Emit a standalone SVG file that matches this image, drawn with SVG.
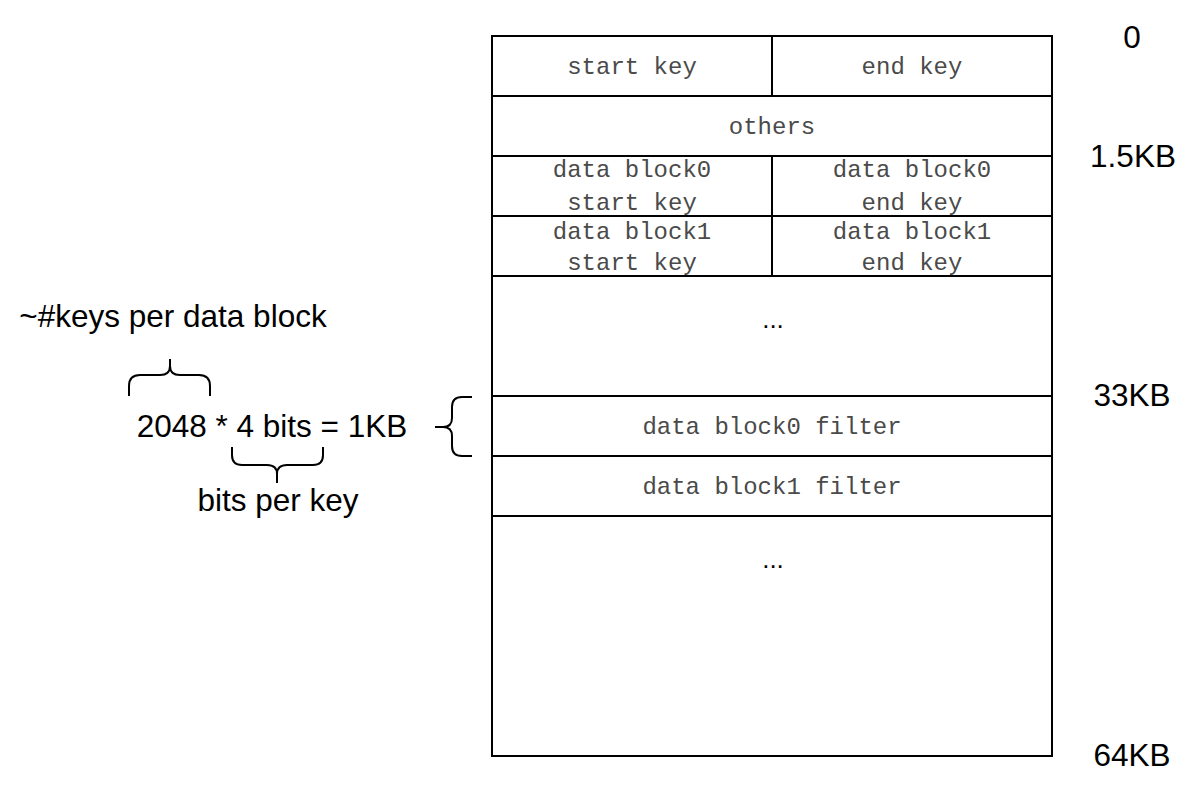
<svg xmlns="http://www.w3.org/2000/svg" width="1192" height="794" viewBox="0 0 1192 794">
<style>
.cell{fill:#fff;stroke:#000;stroke-width:2}
.mono{font-family:"Liberation Mono","Courier New",monospace;font-size:24px;fill:#4a4a4a;text-anchor:middle}
.sans{font-family:"Liberation Sans",Arial,sans-serif;font-size:31.5px;fill:#000;text-anchor:middle}
.dots{font-family:"Liberation Sans",Arial,sans-serif;font-size:26px;fill:#000;text-anchor:middle}
.brace{fill:none;stroke:#000;stroke-width:2;stroke-linejoin:round}
</style>
<rect width="1192" height="794" fill="#fff"/>
<g id="table">
  <g id="row-start-key"><rect class="cell" x="492" y="36" width="280" height="60"/><text class="mono" x="632" y="74">start key</text></g>
  <g id="row-end-key"><rect class="cell" x="772" y="36" width="280" height="60"/><text class="mono" x="912" y="74">end key</text></g>
  <g id="row-others"><rect class="cell" x="492" y="96" width="560" height="60"/><text class="mono" x="772" y="134">others</text></g>
  <g id="b0-start"><rect class="cell" x="492" y="156" width="280" height="60"/><text class="mono" x="632" y="177">data block0</text><text class="mono" x="632" y="210">start key</text></g>
  <g id="b0-end"><rect class="cell" x="772" y="156" width="280" height="60"/><text class="mono" x="912" y="177">data block0</text><text class="mono" x="912" y="210">end key</text></g>
  <g id="b1-start"><rect class="cell" x="492" y="216" width="280" height="60"/><text class="mono" x="632" y="239">data block1</text><text class="mono" x="632" y="270">start key</text></g>
  <g id="b1-end"><rect class="cell" x="772" y="216" width="280" height="60"/><text class="mono" x="912" y="239">data block1</text><text class="mono" x="912" y="270">end key</text></g>
  <g id="row-dots1"><rect class="cell" x="492" y="276" width="560" height="120"/><text class="dots" x="773" y="328">...</text></g>
  <g id="row-filter0"><rect class="cell" x="492" y="396" width="560" height="60"/><text class="mono" x="772" y="434">data block0 filter</text></g>
  <g id="row-filter1"><rect class="cell" x="492" y="456" width="560" height="60"/><text class="mono" x="772" y="494">data block1 filter</text></g>
  <g id="row-dots2"><rect class="cell" x="492" y="516" width="560" height="240"/><text class="dots" x="773" y="568">...</text></g>
</g>
<g id="offsets">
  <text class="sans" x="1132" y="48">0</text>
  <text class="sans" x="1133" y="167">1.5KB</text>
  <text class="sans" x="1132" y="406">33KB</text>
  <text class="sans" x="1132" y="766">64KB</text>
</g>
<g id="formula">
  <text class="sans" x="173" y="327">~#keys per data block</text>
  <text class="sans" x="272" y="437">2048 * 4 bits = 1KB</text>
  <text class="sans" x="278" y="511">bits per key</text>
</g>
<g id="connectors">
  <path class="brace" d="M129,396 L129,386 Q129,375 140,375 L160,375 Q170,375 170,366 L170,359 M170,366 Q170,375 180,375 L199,375 Q210,375 210,386 L210,396"/>
  <path class="brace" d="M232,447 L232,455 Q232,465 242,465 L267,465 Q277,465 277,474 L277,483 M277,474 Q277,465 287,465 L313,465 Q323,465 323,455 L323,447"/>
  <path class="brace" d="M472,397 L462,397 Q452,397 452,407 L452,418 Q452,427 443,427 L435,427 M443,427 Q452,427 452,436 L452,446 Q452,456 462,456 L472,456"/>
</g>
</svg>
